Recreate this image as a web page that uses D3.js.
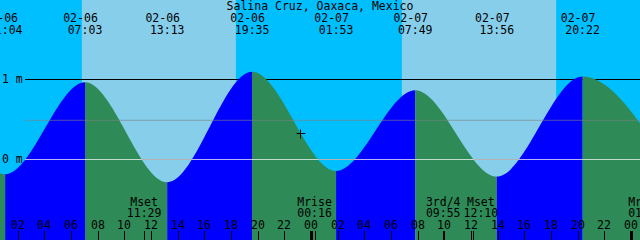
<!DOCTYPE html>
<html lang="en">
<head>
    <meta charset="UTF-8">
    <title>Salina Cruz tides</title>
    <script src="https://d3js.org/d3.v7.min.js"></script>
    <style>
        html, body { margin: 0; padding: 0; background: #fff; }
        svg { display: block; }
        text { font-family: "DejaVu Sans Mono", monospace; font-size: 11.5px; fill: #000; }
    </style>
</head>
<body>
<div id="chart"></div>

<script>
    // station
    var stationName = "Salina Cruz, Oaxaca, Mexico";

    // highs and lows (first and last lie just outside the window)
    var tideTimes = ["2018-02-05 18:50", "2018-02-06 01:04", "2018-02-06 07:03", "2018-02-06 13:13",
        "2018-02-06 19:35", "2018-02-07 01:53", "2018-02-07 07:49", "2018-02-07 13:56",
        "2018-02-07 20:22", "2018-02-08 02:55"];
    var tideLevels = [1.05, -0.19, 0.96, -0.29, 1.09, -0.15, 0.86, -0.22, 1.03, -0.12];

    // sunrise / sunset
    var sunriseTimes = ["2018-02-06 06:49", "2018-02-07 06:49"];
    var sunsetTimes = ["2018-02-06 18:22", "2018-02-07 18:23"];

    // moon events
    var moonTimes = ["2018-02-06 11:29", "2018-02-07 00:16", "2018-02-07 09:55", "2018-02-07 12:10", "2018-02-08 01:05"];
    var moonNames = ["Mset", "Mrise", "3rd/4", "Mset", "Mrise"];

    // depth lines, mean sea level, current time marker
    var depthLines = [0, 1];
    var meanLevel = 0.49;
    var nowTime = "2018-02-06 23:12";
    var nowLevel = 0.32;

    // window
    var windowStart = "2018-02-06 00:40:30";
    var windowEnd = "2018-02-08 00:40:30";

    var width = 640, height = 240;
    var parse = function (s) {
        return d3.timeParse("%Y-%m-%d %H:%M:%S")(s) || d3.timeParse("%Y-%m-%d %H:%M")(s);
    };

    var x = d3.scaleTime()
        .domain([parse(windowStart), parse(windowEnd)])
        .range([0, width]);
    var y = d3.scaleLinear()
        .domain([0, 1])
        .range([159, 79]);

    var svg = d3.select("#chart").append("svg")
        .attr("width", width)
        .attr("height", height);

    // sky: night everywhere, day bands on top
    svg.append("rect")
        .attr("x", 0).attr("y", 0)
        .attr("width", width).attr("height", height)
        .attr("fill", "#00bfff");
    svg.selectAll(".day").data(sunriseTimes)
        .enter().append("rect")
        .attr("class", "day")
        .attr("x", function (d) { return x(parse(d)); })
        .attr("y", 0)
        .attr("width", function (d, i) { return x(parse(sunsetTimes[i])) - x(parse(d)); })
        .attr("height", height)
        .attr("fill", "#87ceeb");

    // depth lines (under the water)
    svg.selectAll(".depth").data(depthLines)
        .enter().append("line")
        .attr("x1", 25).attr("x2", width)
        .attr("y1", function (d) { return y(d) + 0.5; })
        .attr("y2", function (d) { return y(d) + 0.5; })
        .attr("stroke", "#000")
        .attr("stroke-width", 1);

    // water, coloured by flood / ebb
    var tides = tideTimes.map(function (t, i) {
        return {t: parse(t), v: tideLevels[i]};
    });
    var area = d3.area()
        .x(function (d) { return x(d.t); })
        .y0(height)
        .y1(function (d) { return y(d.v); })
        .curve(d3.curveMonotoneX);
    var defs = svg.append("defs");
    for (var i = 0; i < tides.length - 1; i++) {
        var x0 = x(tides[i].t), x1 = x(tides[i + 1].t);
        defs.append("clipPath").attr("id", "seg" + i)
            .append("rect")
            .attr("x", x0).attr("y", 0)
            .attr("width", x1 - x0).attr("height", height);
        svg.append("path")
            .datum(tides)
            .attr("d", area)
            .attr("clip-path", "url(#seg" + i + ")")
            .attr("fill", tides[i + 1].v > tides[i].v ? "#0000ff" : "#2e8b57");
    }

    // datum and mean sea level lines
    svg.append("line")
        .attr("x1", 25).attr("x2", width)
        .attr("y1", y(0) + 0.5).attr("y2", y(0) + 0.5)
        .attr("stroke", "rgba(255,255,255,0.7)");
    svg.append("line")
        .attr("x1", 25).attr("x2", width)
        .attr("y1", y(meanLevel) + 0.5).attr("y2", y(meanLevel) + 0.5)
        .attr("stroke", "rgba(128,128,128,0.6)");

    // depth labels
    svg.selectAll(".depthLabel").data(depthLines)
        .enter().append("text")
        .attr("x", 2)
        .attr("y", function (d) { return y(d) + 4; })
        .text(function (d) { return d + " m"; });

    // current time marker
    var nx = Math.round(x(parse(nowTime))) + 0.5, ny = Math.round(y(nowLevel)) + 0.5;
    svg.append("path")
        .attr("d", "M" + (nx - 4) + "," + ny + "H" + (nx + 5) + "M" + nx + "," + (ny - 4) + "V" + (ny + 5))
        .attr("stroke", "#000")
        .attr("stroke-width", 1);

    // title
    svg.append("text")
        .attr("x", width / 2)
        .attr("y", 10)
        .attr("text-anchor", "middle")
        .text(stationName);

    // high / low times along the top
    var fmtDate = d3.timeFormat("%m-%d"), fmtTime = d3.timeFormat("%H:%M");
    var tideLabel = svg.selectAll(".tideLabel").data(tides)
        .enter().append("g")
        .attr("transform", function (d) { return "translate(" + x(d.t) + ",0)"; });
    tideLabel.append("text")
        .attr("x", -4.5).attr("y", 21.5)
        .attr("text-anchor", "middle")
        .text(function (d) { return fmtDate(d.t); });
    tideLabel.append("text")
        .attr("y", 34)
        .attr("text-anchor", "middle")
        .text(function (d) { return fmtTime(d.t); });

    // moon events along the bottom: tick at the event, labels pushed right if they collide
    var moonX = moonTimes.map(function (d) { return x(parse(d)); });
    svg.selectAll(".moonTick").data(moonX)
        .enter().append("line")
        .attr("x1", function (d) { return Math.round(d) + 0.5; })
        .attr("x2", function (d) { return Math.round(d) + 0.5; })
        .attr("y1", 231).attr("y2", height)
        .attr("stroke", "#000");
    var lastRight = -Infinity;
    moonTimes.forEach(function (d, i) {
        var g = svg.append("g");
        var name = g.append("text").attr("y", 206).attr("text-anchor", "middle").text(moonNames[i]);
        var time = g.append("text").attr("y", 217).attr("text-anchor", "middle").text(fmtTime(parse(d)));
        var w = Math.max(name.node().getComputedTextLength(), time.node().getComputedTextLength());
        var cx = moonX[i];
        if (cx - w / 2 < lastRight + 3) cx = lastRight + 3 + w / 2;
        lastRight = cx + w / 2;
        g.attr("transform", "translate(" + cx + ",0)");
    });

    // hour ticks
    var hours = x.ticks(d3.timeHour.every(2));
    var tick = svg.selectAll(".hour").data(hours)
        .enter().append("g")
        .attr("transform", function (d) { return "translate(" + Math.round(x(d)) + ",0)"; });
    tick.append("text")
        .attr("y", 229)
        .attr("text-anchor", "middle")
        .text(d3.timeFormat("%H"));
    tick.append("line")
        .attr("x1", 0.5).attr("x2", 0.5)
        .attr("y1", 231).attr("y2", height)
        .attr("stroke", "#000")
        .attr("stroke-width", function (d) { return d.getHours() === 0 ? 3 : 1; });
</script>
</body>
</html>
